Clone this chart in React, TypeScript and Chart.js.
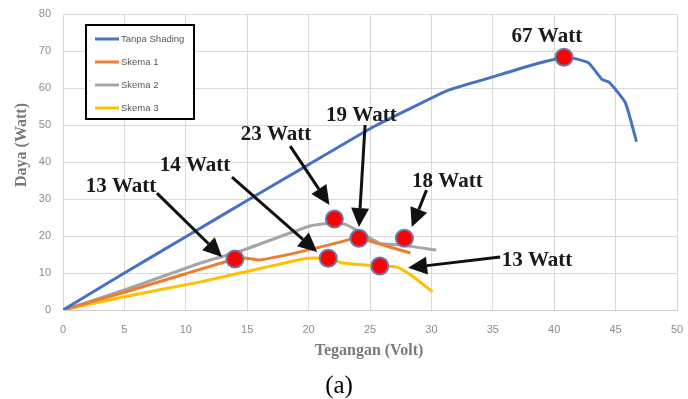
import React, { useEffect, useRef } from "react";
import { Chart, registerables } from "chart.js";

Chart.register(...registerables);

const SERIES_LABELS = ["Tanpa Shading", "Skema 1", "Skema 2", "Skema 3"];
const SERIES_COLORS = ["#4472C4", "#ED7D31", "#A5A5A5", "#FFC000"];

const X_TICKS = [0, 5, 10, 15, 20, 25, 30, 35, 40, 45, 50];
const Y_TICKS = [0, 10, 20, 30, 40, 50, 60, 70, 80];

const TANPA_V = [0, 5, 10, 15, 20, 25, 28, 31.3, 35, 38, 40.8, 41.6, 42.8, 43.9, 44.5, 45.8, 46.7];
const TANPA_P = [0, 10, 19.8, 29.6, 39.3, 49, 54, 59.3, 63, 66, 68.3, 68, 66.8, 62.3, 61.5, 56, 45.5];

const SKEMA1_V = [0, 5, 10, 14, 15, 16, 19.3, 22.6, 24, 25.6, 28.3];
const SKEMA1_P = [0, 4.8, 9.8, 13.8, 14, 13.5, 15.7, 18.4, 19.6, 18, 15.4];

const SKEMA2_V = [0, 5, 11.2, 14.7, 20.1, 22.2, 23.1, 24.2, 25.8, 27.4, 30.4];
const SKEMA2_P = [0, 5.4, 12.7, 16.2, 22.7, 23.6, 23, 21, 18, 17.6, 16.2];

const SKEMA3_V = [0, 5, 11.2, 14.4, 19.9, 21.6, 22.8, 24.4, 25.8, 27.2, 28.3, 30.1];
const SKEMA3_P = [0, 3.6, 7.6, 10, 14, 13.9, 12.7, 12.2, 11.9, 11.6, 9.5, 4.9];

const MARK_V = [14, 21.6, 22.1, 24.1, 25.8, 27.8, 40.8];
const MARK_P = [13.8, 14, 24.6, 19.4, 11.9, 19.4, 68.3];

const NOTE_TEXT = ["13 Watt", "14 Watt", "23 Watt", "19 Watt", "18 Watt", "13 Watt", "67 Watt"];
const NOTE_V = [4.72, 10.75, 17.35, 24.3, 31.3, 38.6, 39.4];
const NOTE_P = [33.5, 39.2, 47.6, 52.7, 35.1, 13.5, 74.3];

const ARROW_FROM_V = [7.65, 13.76, 18.5, 24.6, 29.6, 35.6];
const ARROW_FROM_P = [31.6, 35.9, 44.3, 50.0, 32.4, 14.3];
const ARROW_TO_V = [12.95, 20.7, 21.7, 24.1, 28.4, 28.1];
const ARROW_TO_P = [14.3, 15.7, 28.4, 22.4, 22.4, 11.4];

const X_TITLE = "Tegangan (Volt)";
const Y_TITLE = "Daya (Watt)";
const CAPTION = "(a)";

const pts = (xs: number[], ys: number[]) => xs.map((x, i) => ({ x, y: ys[i] }));

const noScalePadding = (s: any) => {
  s.paddingTop = 0;
  s.paddingBottom = 0;
  s.paddingLeft = 0;
  s.paddingRight = 0;
};

const overlayPlugin = {
  id: "overlay",
  afterDatasetsDraw(chart: any) {
    const ctx = chart.ctx as CanvasRenderingContext2D;
    const xs = chart.scales.x;
    const ys = chart.scales.y;
    ctx.save();

    // arrows
    ctx.strokeStyle = "#111";
    ctx.fillStyle = "#111";
    ctx.lineWidth = 3;
    for (let i = 0; i < ARROW_FROM_V.length; i++) {
      const x1 = xs.getPixelForValue(ARROW_FROM_V[i]);
      const y1 = ys.getPixelForValue(ARROW_FROM_P[i]);
      const x2 = xs.getPixelForValue(ARROW_TO_V[i]);
      const y2 = ys.getPixelForValue(ARROW_TO_P[i]);
      const ang = Math.atan2(y2 - y1, x2 - x1);
      const hl = 19;
      const hw = 9;
      const bx = x2 - hl * Math.cos(ang);
      const by = y2 - hl * Math.sin(ang);
      ctx.beginPath();
      ctx.moveTo(x1, y1);
      ctx.lineTo(bx, by);
      ctx.stroke();
      ctx.beginPath();
      ctx.moveTo(x2, y2);
      ctx.lineTo(bx + hw * Math.sin(ang), by - hw * Math.cos(ang));
      ctx.lineTo(bx - hw * Math.sin(ang), by + hw * Math.cos(ang));
      ctx.closePath();
      ctx.fill();
    }

    // notes
    ctx.font = "bold 21px 'Liberation Serif', 'DejaVu Serif', serif";
    ctx.textAlign = "center";
    ctx.textBaseline = "middle";
    ctx.fillStyle = "#1a1a1a";
    for (let i = 0; i < NOTE_TEXT.length; i++) {
      ctx.fillText(NOTE_TEXT[i], xs.getPixelForValue(NOTE_V[i]), ys.getPixelForValue(NOTE_P[i]) + 1);
    }
    ctx.restore();
  },
  afterDraw(chart: any) {
    const ctx = chart.ctx as CanvasRenderingContext2D;
    ctx.save();
    // legend box
    const lx = 86, ly = 25, lw = 108, lh = 94;
    ctx.fillStyle = "#fff";
    ctx.fillRect(lx, ly, lw, lh);
    ctx.strokeStyle = "#000";
    ctx.lineWidth = 2;
    ctx.strokeRect(lx, ly, lw, lh);
    ctx.font = "9.5px 'Liberation Sans', Arial, sans-serif";
    ctx.textBaseline = "middle";
    ctx.textAlign = "left";
    for (let i = 0; i < SERIES_LABELS.length; i++) {
      const y = ly + 14 + i * 23;
      ctx.strokeStyle = SERIES_COLORS[i];
      ctx.lineWidth = 3;
      ctx.beginPath();
      ctx.moveTo(95, y);
      ctx.lineTo(119, y);
      ctx.stroke();
      ctx.fillStyle = "#595959";
      ctx.fillText(SERIES_LABELS[i], 121, y);
    }

    // axis titles
    ctx.fillStyle = "#7a7a7a";
    ctx.font = "bold 16px 'Liberation Serif', 'DejaVu Serif', serif";
    ctx.textAlign = "center";
    ctx.fillText(X_TITLE, 369, 351);
    ctx.save();
    ctx.translate(22, 145);
    ctx.rotate(-Math.PI / 2);
    ctx.fillText(Y_TITLE, 0, 0);
    ctx.restore();

    // caption
    ctx.fillStyle = "#000";
    ctx.font = "25px 'Liberation Serif', 'DejaVu Serif', serif";
    ctx.fillText(CAPTION, 339, 386);
    ctx.restore();
  },
};

export default function App() {
  const ref = useRef<HTMLCanvasElement | null>(null);
  useEffect(() => {
    if (!ref.current) return;
    const seriesV = [TANPA_V, SKEMA1_V, SKEMA2_V, SKEMA3_V];
    const seriesP = [TANPA_P, SKEMA1_P, SKEMA2_P, SKEMA3_P];
    const chart = new Chart(ref.current, {
      type: "line",
      data: {
        datasets: [
          {
            label: "markers",
            data: pts(MARK_V, MARK_P),
            showLine: false,
            pointRadius: 8.5,
            pointBackgroundColor: "#ff0000",
            pointBorderColor: "#6a78a8",
            pointBorderWidth: 2,
            order: -1,
          } as any,
          ...SERIES_LABELS.map((label, i) => ({
            label,
            data: pts(seriesV[i], seriesP[i]),
            borderColor: SERIES_COLORS[i],
            backgroundColor: SERIES_COLORS[i],
            borderWidth: 3,
            pointRadius: 0,
            tension: 0.15,
            fill: false,
          })),
        ],
      },
      options: {
        responsive: false,
        animation: false,
        layout: { padding: { left: 0, right: 11, top: 14, bottom: 0 } },
        plugins: { legend: { display: false }, tooltip: { enabled: false } },
        scales: {
          x: {
            type: "linear",
            min: 0,
            max: 50,
            afterBuildTicks: (s: any) => {
              s.ticks = X_TICKS.map((v) => ({ value: v }));
            },
            afterFit: (s: any) => {
              s.height = 89;
              noScalePadding(s);
            },
            ticks: {
              padding: 13,
              color: "#8c8c8c",
              font: { family: "'Liberation Sans', Arial, sans-serif", size: 11 },
              maxRotation: 0,
            },
            grid: { color: "#d9d9d9", lineWidth: 1, drawTicks: false },
            border: { color: "#cfcfcf" },
          },
          y: {
            type: "linear",
            min: 0,
            max: 80,
            afterBuildTicks: (s: any) => {
              s.ticks = Y_TICKS.map((v) => ({ value: v }));
            },
            afterFit: (s: any) => {
              s.width = 63;
              noScalePadding(s);
            },
            ticks: {
              padding: 12,
              color: "#8c8c8c",
              font: { family: "'Liberation Sans', Arial, sans-serif", size: 11 },
            },
            grid: { color: "#d9d9d9", lineWidth: 1, drawTicks: false },
            border: { color: "#d9d9d9" },
          },
        },
      },
      plugins: [overlayPlugin],
    });
    return () => chart.destroy();
  }, []);
  return (
    <div style={{ position: "absolute", left: 0, top: 0, width: 688, height: 399, background: "#fff" }}>
      <canvas ref={ref} width={688} height={399} style={{ display: "block" }} />
    </div>
  );
}
